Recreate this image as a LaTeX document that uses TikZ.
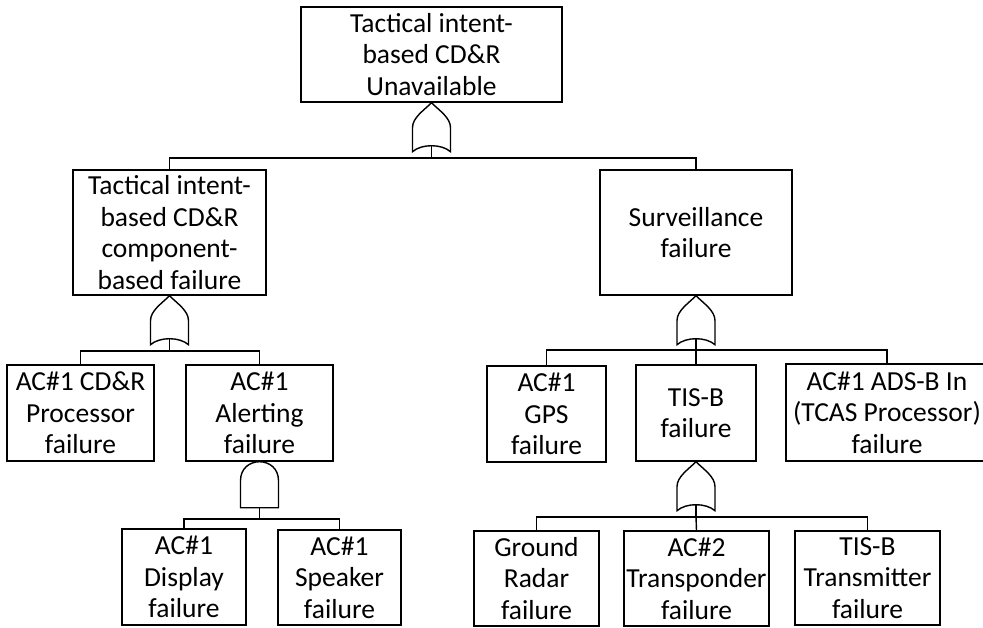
\documentclass[tikz,border=0pt]{standalone}
\usepackage{fontspec}
\setmainfont{Carlito}
\tikzset{
  wire/.style={line width=1.4pt, line join=miter},
  box/.style={draw, line width=1.4pt, inner sep=0pt, align=center,
    font=\fontsize{27.5}{31.5}\selectfont},
  % OR gate, apex at the pic origin, opening downwards
  orgate/.pic={
    \draw[wire] (0,0) .. controls (-8,8) and (-19,15) .. (-19,25) -- (-19,49)
      .. controls (-10,41) and (10,41) .. (19,49) -- (19,25)
      .. controls (19,15) and (8,8) .. (0,0) -- cycle;
    \coordinate (-in) at (0,43);
  },
  % AND gate, dome top at the pic origin
  andgate/.pic={
    \draw[wire] (-19,46) -- (-19,19) .. controls (-19,-6.3) and (19,-6.3) .. (19,19)
      -- (19,46) -- cycle;
    \coordinate (-in) at (0,46);
  }
}
\begin{document}
\begin{tikzpicture}[x=1pt,y=-1pt]
\useasboundingbox (0,0) rectangle (983,627);
\clip (0,0) rectangle (983,627);

% events
\node[box, minimum width=261pt, minimum height=95pt] (top) at (431.5,54.5)
  {Tactical intent-\\based CD\&R\\Unavailable};
\node[box, minimum width=193pt, minimum height=125pt] (comp) at (169.5,232.5)
  {Tactical intent-\\based CD\&R\\component-\\based failure};
\node[box, minimum width=192pt, minimum height=125pt] (surv) at (696,232.5)
  {Surveillance\\failure};
\node[box, minimum width=147pt, minimum height=96pt] (proc) at (80.5,413)
  {AC\#1 CD\&R\\Processor\\failure};
\node[box, minimum width=147pt, minimum height=96pt] (alert) at (259.5,413)
  {AC\#1\\Alerting\\failure};
\node[box, minimum width=119pt, minimum height=96pt] (gps) at (546.5,414)
  {AC\#1\\GPS\\failure};
\node[box, minimum width=120pt, minimum height=96pt] (tisb) at (696,413)
  {TIS-B\\failure};
\node[box, minimum width=202pt, minimum height=97pt] (adsb) at (887,412.5)
  {AC\#1 ADS-B In\\(TCAS Processor)\\failure};
\node[box, minimum width=124pt, minimum height=96pt] (disp) at (184,577)
  {AC\#1\\Display\\failure};
\node[box, minimum width=123pt, minimum height=95pt] (spk) at (339.5,577.5)
  {AC\#1\\Speaker\\failure};
\node[box, minimum width=125pt, minimum height=95pt] (radar) at (536.5,578.5)
  {Ground\\Radar\\failure};
\node[box, minimum width=145pt, minimum height=95pt] (xpdr) at (696.5,578.5)
  {AC\#2\\Transponder\\failure};
\node[box, minimum width=145pt, minimum height=94pt] (xmit) at (867.5,578)
  {TIS-B\\Transmitter\\failure};

% gates
\pic (g0) at (top.south) {orgate};
\pic (g1) at (comp.south) {orgate};
\pic (g2) at (surv.south) {orgate};
\pic (g3) at (alert.south) {andgate};
\pic (g4) at (tisb.south) {orgate};

% bus points below the gates
\coordinate (b0) at (431.5,158);
\coordinate (b1) at (169.5,351);
\coordinate (b2) at (696,350);
\coordinate (b3) at (259.5,519);
\coordinate (b4) at (696,517);

% connectors
\draw[wire] (g0-in) -- (b0);
\draw[wire] (b0) -| (comp.north);
\draw[wire] (b0) -| (surv.north);

\draw[wire] (g1-in) -- (b1);
\draw[wire] (b1) -| (proc.north);
\draw[wire] (b1) -| (alert.north);

\draw[wire] (g2-in) -- (b2);
\draw[wire] (b2) -| (gps.north);
\draw[wire] (b2) -- (tisb.north);
\draw[wire] (b2) -| (adsb.north);

\draw[wire] (g3-in) -- (b3);
\draw[wire] (b3) -| (disp.north);
\draw[wire] (b3) -| (spk.north);

\draw[wire] (g4-in) -- (b4);
\draw[wire] (b4) -| (radar.north);
\draw[wire] (b4) -- (xpdr.north);
\draw[wire] (b4) -| (xmit.north);
\end{tikzpicture}
\end{document}
